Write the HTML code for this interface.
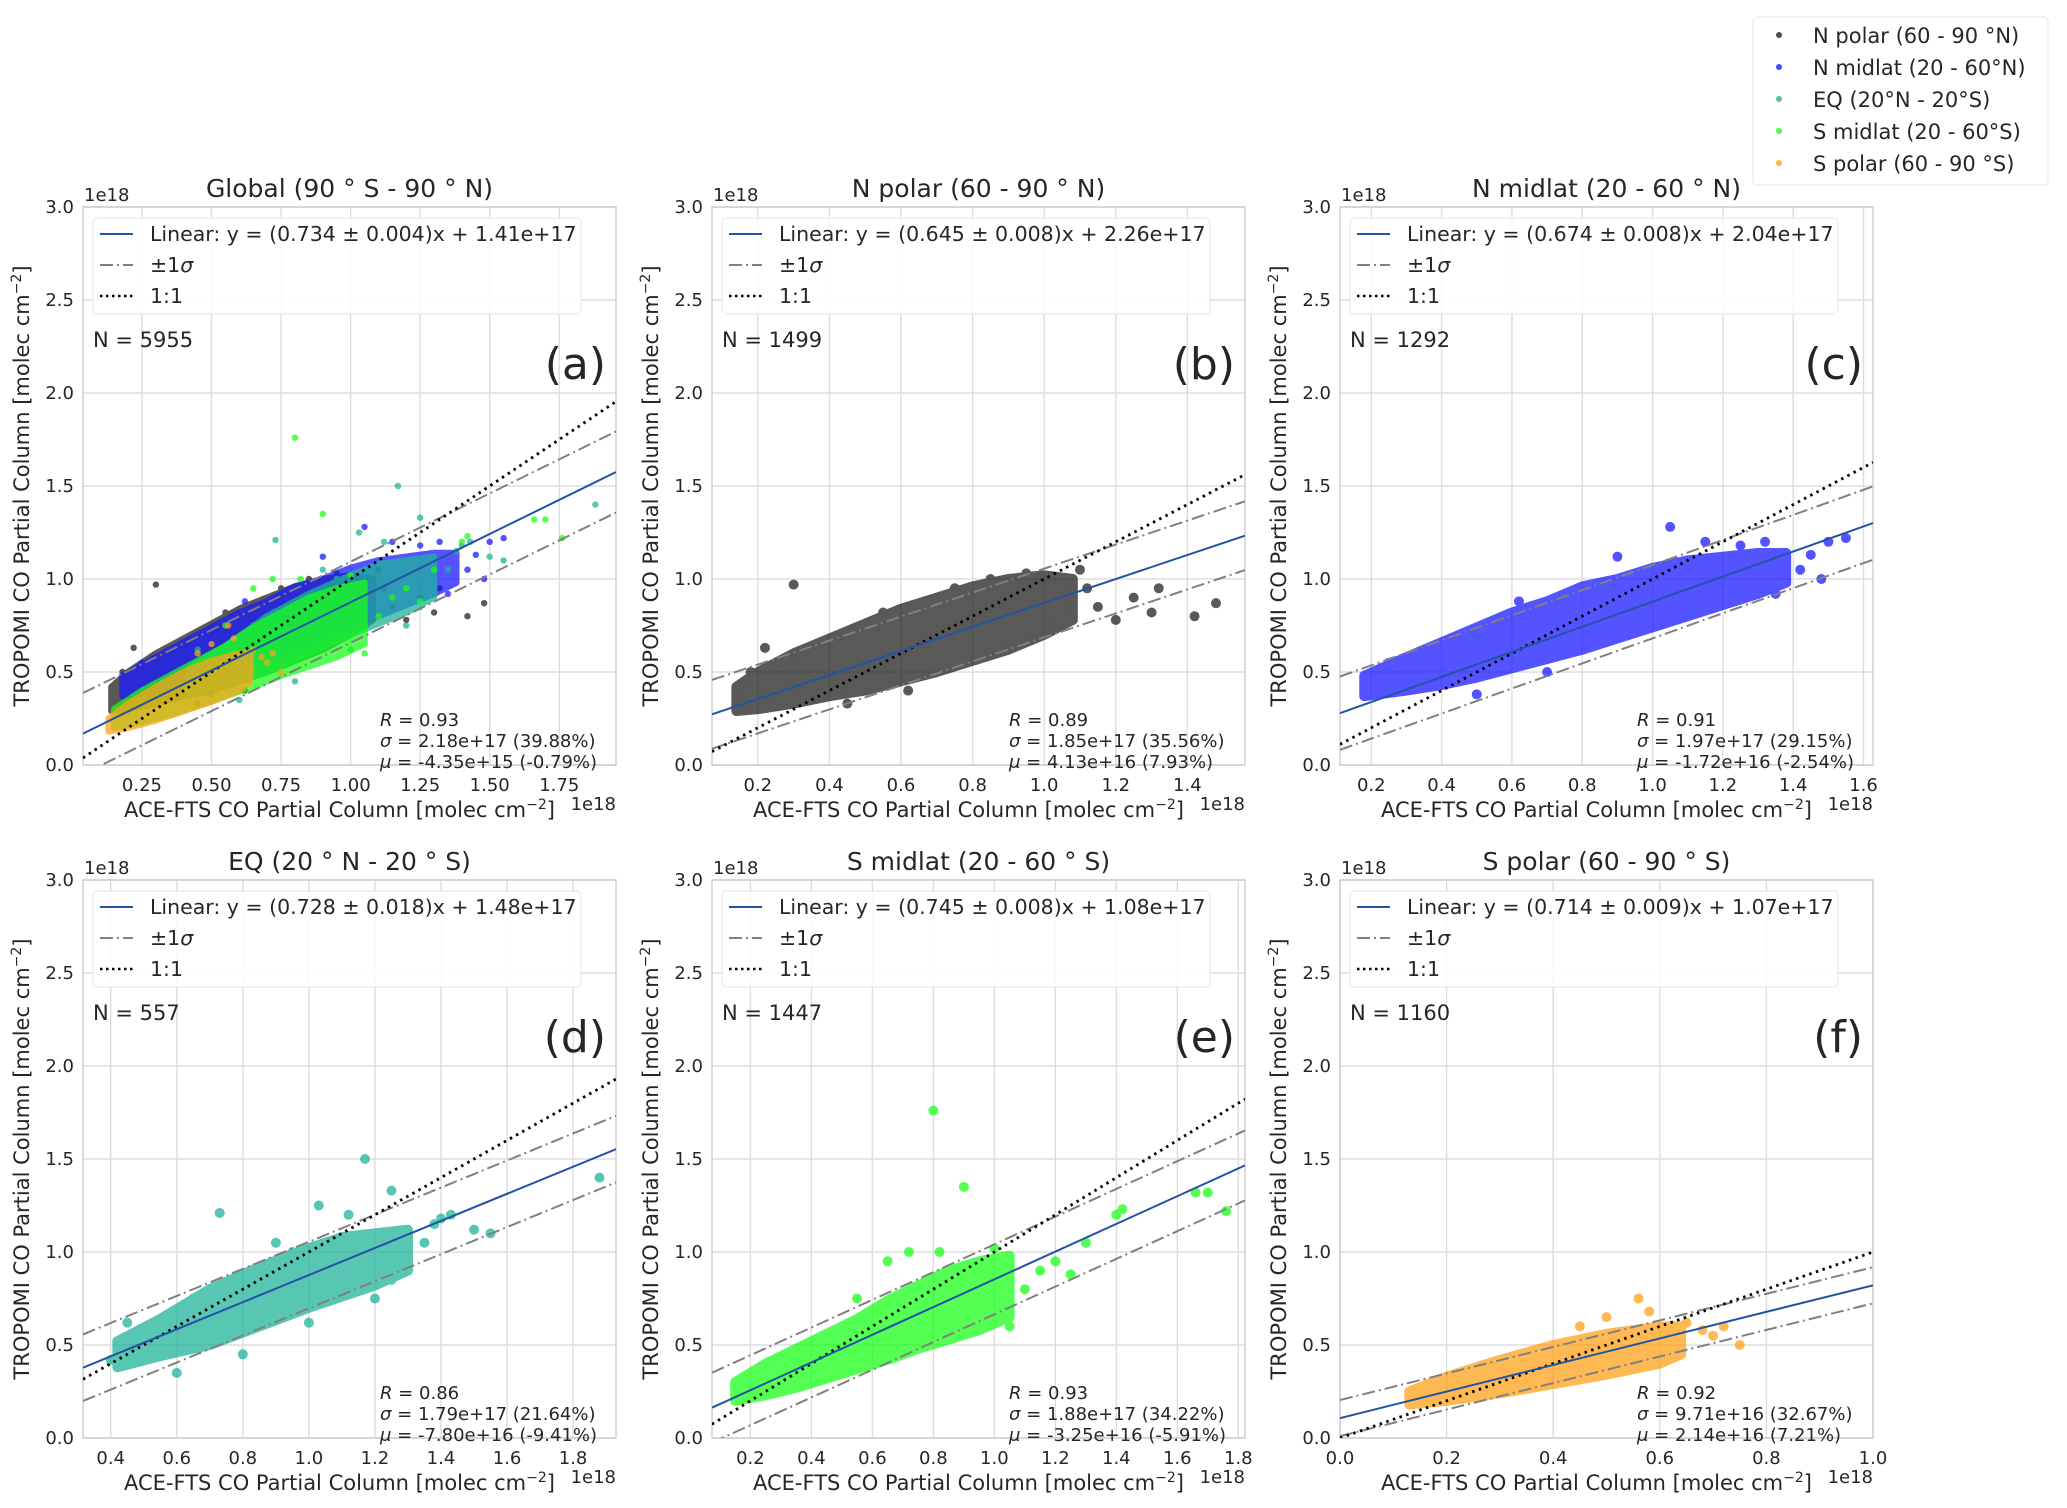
<!DOCTYPE html>
<html><head><meta charset="utf-8"><style>
html,body{margin:0;padding:0;background:#fff;}
svg{display:block;font-family:"DejaVu Sans","Liberation Sans",sans-serif;}
</style></head><body>
<svg id="fig" width="2067" height="1508" viewBox="0 0 2067 1508" xmlns="http://www.w3.org/2000/svg"></svg>
<script>
// ---- data ----
const panelIds = ['a','b','c','d','e','f'];
const panelTitles = ['Global (90 ° S - 90 ° N)','N polar (60 - 90  ° N)','N midlat (20 - 60 ° N)','EQ (20 ° N - 20 ° S)','S midlat (20 - 60 ° S)','S polar (60 - 90  ° S)'];
const slopes = [0.734,0.645,0.674,0.728,0.745,0.714];
const slopeErr = ['0.004','0.008','0.008','0.018','0.008','0.009'];
const intercepts = [0.141,0.226,0.204,0.148,0.108,0.107];
const interceptTxt = ['1.41e+17','2.26e+17','2.04e+17','1.48e+17','1.08e+17','1.07e+17'];
const sigmas = [0.218,0.185,0.197,0.179,0.188,0.0971];
const counts = [5955,1499,1292,557,1447,1160];
const rTxt = ['0.93','0.89','0.91','0.86','0.93','0.92'];
const sigTxt = ['2.18e+17 (39.88%)','1.85e+17 (35.56%)','1.97e+17 (29.15%)','1.79e+17 (21.64%)','1.88e+17 (34.22%)','9.71e+16 (32.67%)'];
const muTxt = ['-4.35e+15 (-0.79%)','4.13e+16 (7.93%)','-1.72e+16 (-2.54%)','-7.80e+16 (-9.41%)','-3.25e+16 (-5.91%)','2.14e+16 (7.21%)'];
const xlims = [[0.038,1.954],[0.072,1.561],[0.111,1.627],[0.316,1.93],[0.074,1.822],[0.0,1.0]];
const xtickVals = [[0.25,0.5,0.75,1.0,1.25,1.5,1.75],[0.2,0.4,0.6,0.8,1.0,1.2,1.4],[0.2,0.4,0.6,0.8,1.0,1.2,1.4,1.6],[0.4,0.6,0.8,1.0,1.2,1.4,1.6,1.8],[0.2,0.4,0.6,0.8,1.0,1.2,1.4,1.6,1.8],[0.0,0.2,0.4,0.6,0.8,1.0]];
const xtickLabels = [['0.25','0.50','0.75','1.00','1.25','1.50','1.75'],['0.2','0.4','0.6','0.8','1.0','1.2','1.4'],['0.2','0.4','0.6','0.8','1.0','1.2','1.4','1.6'],['0.4','0.6','0.8','1.0','1.2','1.4','1.6','1.8'],['0.2','0.4','0.6','0.8','1.0','1.2','1.4','1.6','1.8'],['0.0','0.2','0.4','0.6','0.8','1.0']];
const ytickVals = [0,0.5,1.0,1.5,2.0,2.5,3.0];
const ytickLabels = ['0.0','0.5','1.0','1.5','2.0','2.5','3.0'];
const regionNames = ['N polar (60 - 90 °N)','N midlat (20 - 60°N)','EQ (20°N - 20°S)','S midlat (20 - 60°S)','S polar (60 - 90 °S)'];
const regionColors = ['#222222','#1a1aff','#1fb39a','#1aff1a','#ffa21a'];
// dense-core envelopes [x, ylow, yhigh] (1e18)
const npolarBand = [[0.14,0.29,0.42],[0.2,0.3,0.5],[0.3,0.33,0.6],[0.4,0.37,0.68],[0.5,0.4,0.76],[0.6,0.45,0.84],[0.7,0.5,0.9],[0.8,0.56,0.96],[0.9,0.62,1.0],[1.0,0.7,1.02],[1.08,0.78,1.0]];
const nmidBand = [[0.18,0.37,0.48],[0.3,0.4,0.58],[0.4,0.43,0.66],[0.5,0.47,0.74],[0.6,0.52,0.82],[0.7,0.57,0.88],[0.8,0.62,0.96],[0.9,0.68,1.0],[1.0,0.74,1.06],[1.1,0.8,1.1],[1.2,0.86,1.12],[1.3,0.92,1.14],[1.38,0.98,1.14]];
const eqBand = [[0.42,0.38,0.52],[0.55,0.44,0.64],[0.7,0.5,0.8],[0.85,0.6,0.92],[1.0,0.7,1.02],[1.1,0.76,1.08],[1.2,0.82,1.1],[1.3,0.9,1.12]];
const smidBand = [[0.15,0.2,0.3],[0.25,0.23,0.4],[0.35,0.27,0.48],[0.45,0.32,0.56],[0.55,0.37,0.64],[0.65,0.42,0.74],[0.75,0.48,0.82],[0.85,0.53,0.9],[0.95,0.58,0.95],[1.05,0.65,0.98]];
const spolarBand = [[0.13,0.18,0.25],[0.2,0.2,0.33],[0.3,0.24,0.42],[0.4,0.29,0.5],[0.5,0.34,0.56],[0.6,0.4,0.6],[0.64,0.45,0.6]];
// individual / outlying points [x, y] (1e18)
const npolarPts = [[0.3,0.97],[0.22,0.63],[0.18,0.5],[1.12,0.95],[1.15,0.85],[1.2,0.78],[1.25,0.9],[1.32,0.95],[1.3,0.82],[1.48,0.87],[1.42,0.8],[1.1,1.05],[0.95,1.03],[0.85,1.0],[0.55,0.82],[0.75,0.95],[1.02,0.75],[0.62,0.4],[0.45,0.33]];
const nmidPts = [[1.05,1.28],[1.5,1.2],[1.45,1.13],[1.42,1.05],[1.48,1.0],[0.5,0.38],[0.7,0.5],[0.9,1.12],[1.15,1.2],[1.25,1.18],[1.35,0.92],[0.25,0.55],[0.35,0.62],[0.62,0.88],[1.55,1.22],[1.32,1.2]];
const eqPts = [[1.17,1.5],[1.03,1.25],[1.25,1.33],[1.5,1.12],[1.55,1.1],[1.88,1.4],[0.73,1.21],[1.43,1.2],[1.4,1.18],[1.38,1.15],[1.35,1.05],[1.3,0.95],[1.25,0.85],[0.6,0.35],[0.8,0.45],[0.45,0.62],[0.9,1.05],[0.95,1.0],[1.12,1.2],[1.2,0.75],[0.4,0.42],[0.65,0.75],[1.0,0.62]];
const smidPts = [[0.8,1.76],[0.9,1.35],[1.66,1.32],[1.7,1.32],[1.76,1.22],[1.42,1.23],[1.4,1.2],[1.1,0.8],[1.2,0.95],[1.3,1.05],[0.82,1.0],[0.65,0.95],[1.05,0.6],[0.95,0.6],[1.15,0.9],[1.25,0.88],[0.72,1.0],[0.55,0.75],[1.0,1.02]];
const spolarPts = [[0.56,0.75],[0.7,0.55],[0.75,0.5],[0.72,0.6],[0.65,0.62],[0.45,0.6],[0.58,0.68],[0.62,0.48],[0.68,0.58],[0.5,0.65]];
const regionBands = [npolarBand,nmidBand,eqBand,smidBand,spolarBand];
const regionPts = [npolarPts,nmidPts,eqPts,smidPts,spolarPts];

// ---- layout ----
const NS='http://www.w3.org/2000/svg';
const svg=document.getElementById('fig');
const colX=[83,712,1340], rowY=[207,880], W=533, H=558;
function el(tag,attrs,parent){const e=document.createElementNS(NS,tag);for(const k in attrs)e.setAttribute(k,attrs[k]);(parent||svg).appendChild(e);return e;}
function txt(parent,x,y,s,size,anchor,extra){const t=el('text',Object.assign({x:x,y:y,'font-size':size,'text-anchor':anchor||'start',fill:'#262626'},extra||{}),parent);t.textContent=s;return t;}

panelIds.forEach((pid,i)=>{
  const x0=colX[i%3], y0=rowY[Math.floor(i/3)];
  const xl=xlims[i];
  const sx=v=>x0+(v-xl[0])/(xl[1]-xl[0])*W;
  const sy=v=>y0+H-(v/3.0)*H;
  const g=el('g',{});
  
  
  const cp=el('clipPath',{id:'clip'+pid},g);
  el('rect',{x:x0,y:y0,width:W,height:H},cp);
  ytickVals.forEach((v,k)=>{
    const l=el('line',{x1:x0,x2:x0+W,y1:sy(v),y2:sy(v),stroke:'#dddddd','stroke-width':1.4},g);
    
    
    const t=txt(g,x0-9,sy(v)+6,ytickLabels[k],18,'end');
    
    
  });
  xtickVals[i].forEach((v,k)=>{
    const l=el('line',{x1:sx(v),x2:sx(v),y1:y0,y2:y0+H,stroke:'#dddddd','stroke-width':1.4},g);
    
    
    const t=txt(g,sx(v),y0+H+26,xtickLabels[i][k],18,'middle');
    
    
  });
  const frame=el('rect',{x:x0,y:y0,width:W,height:H,fill:'none',stroke:'#cccccc','stroke-width':1.4},g);
  
  
  const dg=el('g',{'clip-path':'url(#clip'+pid+')'},g);
  const regs = i===0 ? [0,1,2,3,4] : [i-1];
  const r = i===0 ? 3.2 : 5;
  regs.forEach(ri=>{
    const band=regionBands[ri], col=regionColors[ri];
    const rg=el('g',{opacity:0.75},dg);
    let pts=band.map(b=>sx(b[0])+','+sy(b[2]));
    band.slice().reverse().forEach(b=>pts.push(sx(b[0])+','+sy(b[1])));
    const poly=el('polygon',{points:pts.join(' '),fill:col,stroke:col,'stroke-width':r*2,'stroke-linejoin':'round'},rg);
    
    
    regionPts[ri].forEach(p=>{
      const c=el('circle',{cx:sx(p[0]),cy:sy(p[1]),r:r,fill:col},rg);
      
      
    });
  });
  const m=slopes[i], b=intercepts[i], s=sigmas[i];
  const L=(f,attrs,name)=>{const l=el('line',Object.assign({x1:sx(xl[0]),y1:sy(f(xl[0])),x2:sx(xl[1]),y2:sy(f(xl[1])),'stroke-width':2},attrs),dg);};
  L(x=>m*x+b+s,{stroke:'#808080','stroke-dasharray':'13,4,2,4'},'plus-sigma-line');
  L(x=>m*x+b-s,{stroke:'#808080','stroke-dasharray':'13,4,2,4'},'minus-sigma-line');
  L(x=>x,{stroke:'#000','stroke-dasharray':'2.5,4.5','stroke-width':2.8},'one-to-one-line');
  L(x=>m*x+b,{stroke:'#2452a4'},'fit-line');
  const lg=el('g',{},g);
  
  
  el('rect',{x:x0+10,y:y0+11,width:488,height:96,rx:4,fill:'#fff','fill-opacity':0.85,stroke:'#e6e6e6'},lg);
  el('line',{x1:x0+17,x2:x0+50,y1:y0+27,y2:y0+27,stroke:'#2452a4','stroke-width':2},lg);
  el('line',{x1:x0+17,x2:x0+50,y1:y0+58,y2:y0+58,stroke:'#808080','stroke-width':2,'stroke-dasharray':'13,4,2,4'},lg);
  el('line',{x1:x0+17,x2:x0+50,y1:y0+89,y2:y0+89,stroke:'#000','stroke-width':2.5,'stroke-dasharray':'2.5,3.5'},lg);
  txt(lg,x0+67,y0+34,'Linear: y = ('+m.toFixed(3)+' ± '+slopeErr[i]+')x + '+interceptTxt[i],20.5);
  const t2=txt(lg,x0+67,y0+65,'±1',20.5); const ts=el('tspan',{'font-style':'italic'},t2); ts.textContent='σ';
  txt(lg,x0+67,y0+96,'1:1',20.5);
  const nt=txt(g,x0+10,y0+140,'N = '+counts[i],21);
  
  
  const pl=txt(g,x0+W-10,y0+172,'('+pid+')',44,'end');
  
  
  const st=el('g',{},g);
  
  
  const sx0=x0+297;
  [['R',' = '+rTxt[i]],['σ',' = '+sigTxt[i]],['μ',' = '+muTxt[i]]].forEach((row,k)=>{
    const t=txt(st,sx0,y0+519+k*21,'',18);
    const a=el('tspan',{'font-style':'italic'},t); a.textContent=row[0];
    const bb=el('tspan',{},t); bb.textContent=row[1];
  });
  const tt=txt(g,x0+W/2,y0-10,panelTitles[i],25,'middle');
  
  
  const oy=txt(g,x0+1,y0-6,'1e18',18);
  
  
  const ox=txt(g,x0+W,y0+H+45,'1e18',18,'end');
  
  
  const xt=txt(g,x0+W/2-10,y0+H+52,'ACE-FTS CO Partial Column [molec cm',21,'middle');
  const sup=el('tspan',{'font-size':14,dy:-8},xt); sup.textContent='−2';
  const cl=el('tspan',{dy:8},xt); cl.textContent=']';
  
  
  const cx=x0-54, cy=y0+H/2;
  const yt=txt(g,cx,cy,'TROPOMI CO Partial Column [molec cm',21,'middle',{transform:'rotate(-90 '+cx+' '+cy+')'});
  const sup2=el('tspan',{'font-size':14,dy:-8},yt); sup2.textContent='−2';
  const cl2=el('tspan',{dy:8},yt); cl2.textContent=']';
  
  
});

const fl=el('g',{});


el('rect',{x:1753,y:17,width:295,height:168,rx:4,fill:'#fff',stroke:'#e6e6e6'},fl);
regionNames.forEach((n,k)=>{
  const e=el('g',{},fl);
  
  
  el('circle',{cx:1779,cy:35+k*32,r:3,fill:regionColors[k],'fill-opacity':0.8},e);
  txt(e,1813,43+k*32,n,21);
});
</script>
</body></html>
